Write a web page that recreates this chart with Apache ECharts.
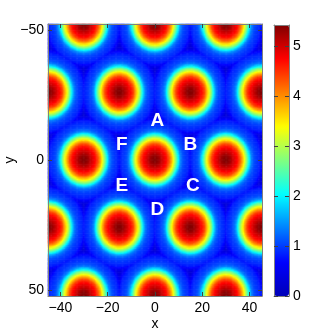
<!DOCTYPE html>
<html>
<head>
<meta charset="utf-8">
<script src="https://cdn.jsdelivr.net/npm/echarts@6/dist/echarts.min.js"></script>
<style>
html, body { margin: 0; padding: 0; background: #fff; }
#main { width: 332px; height: 333px; }
</style>
</head>
<body>
<div id="main"></div>
<script>
// peak centres of the lattice (data units)
var peakX = [-60, -30, 0, 30, 60, -45, -15, 15, 45, -60, -30, 0, 30, 60, -45, -15, 15, 45, -60, -30, 0, 30, 60];
var peakY = [-52, -52, -52, -52, -52, -26, -26, -26, -26, 0, 0, 0, 0, 0, 26, 26, 26, 26, 52, 52, 52, 52, 52];
// value against distance from the nearest peak
var profileR = [0, 1, 2, 3, 4, 5, 6, 7, 8, 9, 10, 11, 12, 13, 14, 15, 16, 17, 18];
var profileV = [5.42, 5.38, 5.25, 5.05, 4.88, 4.68, 4.38, 3.88, 3.3, 2.7, 1.95, 1.35, 1.1, 0.98, 0.9, 0.8, 0.55, 0.32, 0.25];
var xTicks = [-40, -20, 0, 20, 40];
var yTicks = [-50, 0, 50];
var cbTicks = [0, 1, 2, 3, 4, 5];
var markText = ['A', 'B', 'C', 'D', 'E', 'F'];
var markX = [1, 15, 16, 1, -14, -14];
var markY = [-15, -6, 10, 19, 10, -6];

var jet = ['#0000b8', '#0000ff', '#0080ff', '#00ffff', '#80ff80', '#ffff00', '#ff8000', '#ff0000', '#800000'];
var font = 'Liberation Sans, Arial, Helvetica, sans-serif';

// sample grid, half a unit apart
var xCells = [], yCells = [];
for (var i = -90; i <= 90; i++) xCells.push(i / 2);
for (var j = -104; j <= 104; j++) yCells.push(j / 2);

function fieldAt(x, y) {
    var d = Infinity;
    for (var k = 0; k < peakX.length; k++) {
        var dx = x - peakX[k], dy = y - peakY[k];
        d = Math.min(d, Math.sqrt(dx * dx + dy * dy));
    }
    var n = profileR.length - 1;
    if (d >= profileR[n]) return profileV[n];
    var a = Math.floor(d);
    return profileV[a] + (profileV[a + 1] - profileV[a]) * (d - profileR[a]);
}

var cells = [];
for (var xi = 0; xi < xCells.length; xi++) {
    for (var yi = 0; yi < yCells.length; yi++) {
        cells.push([xi, yi, fieldAt(xCells[xi], yCells[yi])]);
    }
}
var marks = markText.map(function (t, k) { return [markX[k], markY[k], t]; });

function minus(v) { return String(v).replace('-', '\u2212'); }

var frame = { show: true, onZero: false, lineStyle: { color: '#808080', width: 1 } };
var ticksIn = function (vals) {
    return { show: true, inside: true, length: 4, customValues: vals, lineStyle: { color: '#404040' } };
};
var lbl = function (vals, margin) {
    return { customValues: vals, formatter: minus, fontSize: 14, color: '#000', fontFamily: font, margin: margin };
};

var mychart = echarts.init(document.getElementById('main'));
var option = {
    animation: false,
    backgroundColor: '#fff',
    grid: [
        { left: 48, top: 24, width: 214, height: 272, outerBoundsMode: 'none', containLabel: false },
        { left: 274, top: 25, width: 15, height: 271, outerBoundsMode: 'none', containLabel: false }
    ],
    xAxis: [
        { type: 'category', gridIndex: 0, data: xCells, show: false },
        {
            type: 'value', gridIndex: 0, min: -45.25, max: 45.25, position: 'bottom', z: 10,
            axisLine: frame, axisTick: ticksIn(xTicks), axisLabel: lbl(xTicks, 5), splitLine: { show: false },
            name: 'x', nameLocation: 'middle', nameGap: 21, nameMoveOverlap: false,
            nameTextStyle: { fontSize: 14, color: '#000', fontFamily: font }
        },
        {
            type: 'value', gridIndex: 0, min: -45.25, max: 45.25, position: 'top', z: 10,
            axisLine: frame, axisTick: ticksIn(xTicks), axisLabel: { show: false }, splitLine: { show: false }
        },
        { type: 'value', gridIndex: 1, min: 0, max: 1, position: 'bottom', z: 10, axisLine: frame,
          axisTick: { show: false }, axisLabel: { show: false }, splitLine: { show: false } },
        { type: 'value', gridIndex: 1, min: 0, max: 1, position: 'top', z: 10, axisLine: frame,
          axisTick: { show: false }, axisLabel: { show: false }, splitLine: { show: false } }
    ],
    yAxis: [
        { type: 'category', gridIndex: 0, data: yCells, inverse: true, show: false },
        {
            type: 'value', gridIndex: 0, min: -52.25, max: 52.25, inverse: true, position: 'left', z: 10,
            axisLine: frame, axisTick: ticksIn(yTicks), axisLabel: lbl(yTicks, 4), splitLine: { show: false },
            name: 'y', nameLocation: 'middle', nameGap: 31, nameMoveOverlap: false,
            nameTextStyle: { fontSize: 14, color: '#000', fontFamily: font }
        },
        {
            type: 'value', gridIndex: 0, min: -52.25, max: 52.25, inverse: true, position: 'right', z: 10,
            axisLine: frame, axisTick: ticksIn(yTicks), axisLabel: { show: false }, splitLine: { show: false }
        },
        {
            type: 'value', gridIndex: 1, min: 0, max: 5.42, position: 'right', z: 10,
            axisLine: frame, axisTick: ticksIn(cbTicks), axisLabel: lbl(cbTicks, 4), splitLine: { show: false }
        },
        {
            type: 'value', gridIndex: 1, min: 0, max: 5.42, position: 'left', z: 10,
            axisLine: frame, axisTick: ticksIn(cbTicks), axisLabel: { show: false }, splitLine: { show: false }
        }
    ],
    visualMap: {
        type: 'continuous', min: 0, max: 5.42, seriesIndex: 0, calculable: false,
        left: 274, top: 25, itemWidth: 15, itemHeight: 271, padding: 0,
        inRange: { color: jet }
    },
    series: [
        {
            type: 'heatmap', xAxisIndex: 0, yAxisIndex: 0, data: cells,
            progressive: 0, emphasis: { disabled: true },
            itemStyle: { borderWidth: 0 }
        },
        {
            type: 'scatter', xAxisIndex: 1, yAxisIndex: 1, data: marks,
            symbolSize: 0, silent: true, z: 20,
            itemStyle: { opacity: 1 },
            label: {
                show: true, position: 'inside', formatter: function (p) { return p.data[2]; },
                color: '#fff', opacity: 1, fontSize: 19, fontWeight: 'bold', fontFamily: font,
                textBorderWidth: 0, textBorderColor: 'transparent'
            }
        }
    ]
};
mychart.setOption(option);
</script>
</body>
</html>
